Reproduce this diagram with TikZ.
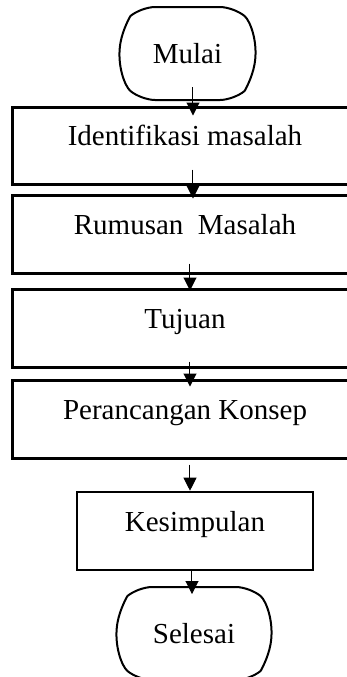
\documentclass[tikz,border=0pt]{standalone}
\usepackage{fontspec}
\setmainfont{Liberation Serif}
\usepackage{tikz}
\usetikzlibrary{shapes.misc, arrows.meta}
\tikzset{
  terminalbox/.style={rounded rectangle, rounded rectangle arc length=100, rounded corners=7pt, draw=black, line width=1pt, minimum height=46.5pt, inner sep=2pt, font=\fontsize{14.5}{17}\selectfont},
  processbox/.style={rectangle, draw=black, line width=1.5pt, minimum width=172pt, minimum height=39pt, text height=10pt, text depth=10pt, font=\fontsize{14.5}{17}\selectfont, align=center},
  flowarrow/.style={-{Triangle[width=6.5pt,length=6.5pt]}, line width=0.5pt, black}
}

\begin{document}
\begin{tikzpicture}[x=0.5pt, y=-0.5pt]
  \useasboundingbox (0,0) rectangle (347,677);
  \node[terminalbox, minimum width=72pt] (mulai) at (187.5,53.5) {Mulai};
  \node[processbox, minimum height=38.5pt] (identifikasi) at (185,145.5) {Identifikasi masalah};
  \node[processbox] (rumusan) at (185,234) {Rumusan~ Masalah};
  \node[processbox] (tujuan) at (185,328) {Tujuan};
  \node[processbox] (konsep) at (185,419) {Perancangan Konsep};
  \node[processbox, minimum width=118pt, line width=1.3pt] (kesimpulan) at (195,531) {Kesimpulan};
  \node[terminalbox, minimum width=81.5pt] (selesai) at (194,633.5) {Selesai};

  \draw[flowarrow] ([xshift=2.75pt, yshift=7pt]mulai.south) -- ([xshift=4pt, yshift=-5pt]identifikasi.north);
  \draw[flowarrow] ([xshift=4pt, yshift=8pt]identifikasi.south) -- ([xshift=4pt, yshift=-2.5pt]rumusan.north);
  \draw[flowarrow] ([xshift=2.5pt, yshift=5.5pt]rumusan.south) -- ([xshift=2.5pt, yshift=-1.5pt]tujuan.north);
  \draw[flowarrow] ([xshift=2.5pt, yshift=3.5pt]tujuan.south) -- ([xshift=2.5pt, yshift=-4pt]konsep.north);
  \draw[flowarrow] ([xshift=2.5pt, yshift=-2.5pt]konsep.south) -- ([xshift=-2.5pt]kesimpulan.north);
  \draw[flowarrow] ([xshift=-1.5pt]kesimpulan.south) -- ([xshift=-1pt, yshift=-4pt]selesai.north);
\end{tikzpicture}
\end{document}
